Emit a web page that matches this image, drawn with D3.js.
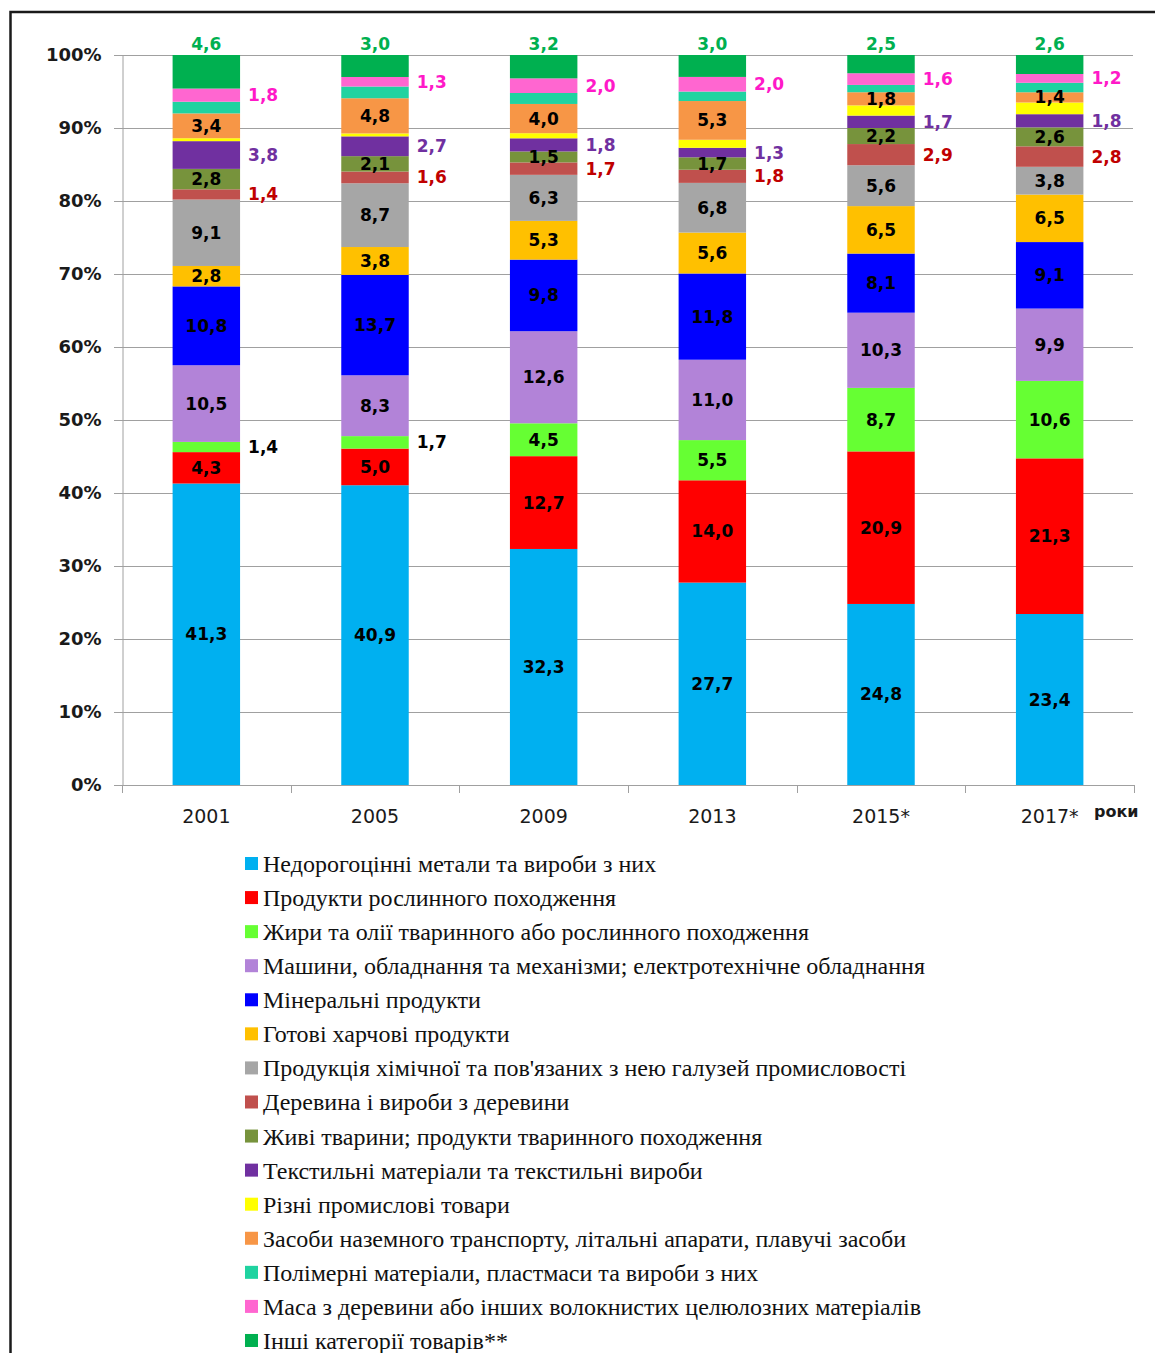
<!DOCTYPE html>
<html>
<head>
<meta charset="utf-8">
<script src="https://cdn.jsdelivr.net/npm/d3@7"></script>
<style>
  html, body { margin: 0; padding: 0; background: #fff; }
  svg { display: block; }
</style>
</head>
<body>
<svg id="chart" width="1155" height="1353"></svg>
<script>
// ---------- DATA ----------
const years = ["2001", "2005", "2009", "2013", "2015*", "2017*"];
const yTicks = [0, 0.1, 0.2, 0.3, 0.4, 0.5, 0.6, 0.7, 0.8, 0.9, 1.0];
const unitLabel = "роки";

const categories = [
  "Недорогоцінні метали та вироби з них",
  "Продукти рослинного походження",
  "Жири та олії тваринного або рослинного походження",
  "Машини, обладнання та механізми; електротехнічне обладнання",
  "Мінеральні продукти",
  "Готові харчові продукти",
  "Продукція хімічної та пов'язаних з нею галузей промисловості",
  "Деревина і вироби з деревини",
  "Живі тварини; продукти тваринного походження",
  "Текстильні матеріали та текстильні вироби",
  "Різні промислові товари",
  "Засоби наземного транспорту, літальні апарати, плавучі засоби",
  "Полімерні матеріали, пластмаси та вироби з них",
  "Маса з деревини або інших волокнистих целюлозних матеріалів",
  "Інші категорії товарів**"
];

const metals    = [41.3, 40.9, 32.3, 27.7, 24.8, 23.4];
const plants    = [4.3, 5.0, 12.7, 14.0, 20.9, 21.3];
const fats      = [1.4, 1.7, 4.5, 5.5, 8.7, 10.6];
const machinery = [10.5, 8.3, 12.6, 11.0, 10.3, 9.9];
const minerals  = [10.8, 13.7, 9.8, 11.8, 8.1, 9.1];
const foods     = [2.8, 3.8, 5.3, 5.6, 6.5, 6.5];
const chemicals = [9.1, 8.7, 6.3, 6.8, 5.6, 3.8];
const wood      = [1.4, 1.6, 1.7, 1.8, 2.9, 2.8];
const animals   = [2.8, 2.1, 1.5, 1.7, 2.2, 2.6];
const textiles  = [3.8, 2.7, 1.8, 1.3, 1.7, 1.8];
const misc      = [0.4, 0.4, 0.7, 1.1, 1.4, 1.6];   // unlabeled, estimated
const transport = [3.4, 4.8, 4.0, 5.3, 1.8, 1.4];
const polymers  = [1.6, 1.6, 1.5, 1.3, 1.0, 1.3];   // unlabeled, estimated
const pulp      = [1.8, 1.3, 2.0, 2.0, 1.6, 1.2];
const others    = [4.6, 3.0, 3.2, 3.0, 2.5, 2.6];

const seriesValues = [metals, plants, fats, machinery, minerals, foods, chemicals,
  wood, animals, textiles, misc, transport, polymers, pulp, others];

// ---------- STYLE ----------
const colors = ["#00b0f0", "#ff0000", "#66ff33", "#b283d8", "#0000ff", "#ffc000",
  "#a6a6a6", "#c0504d", "#77933c", "#7030a0", "#ffff00", "#f79646", "#1fd3a0",
  "#ff66d0", "#00b050"];
const labelMode = ["inside", "inside", "auto", "inside", "inside", "inside", "inside",
  "right", "inside", "right", "none", "inside", "none", "right", "top"];
const labelColor = ["#000", "#000", "#000", "#000", "#000", "#000", "#000",
  "#c00000", "#000", "#7030a0", "#000", "#000", "#000", "#ff19c8", "#00b050"];

// ---------- BUILD ----------
const keys = categories.map((c, i) => "s" + i);
const table = years.map((y, j) => {
  const row = { year: y };
  seriesValues.forEach((arr, i) => { row[keys[i]] = arr[j]; });
  return row;
});
const stacked = d3.stack().keys(keys).offset(d3.stackOffsetExpand)(table);

const svg = d3.select("#chart");
const W = 1155, H = 1353;
svg.append("rect").attr("width", W).attr("height", H).attr("fill", "#fff");
svg.append("rect").attr("x", 10.5).attr("y", 12).attr("width", W + 20).attr("height", H + 20)
  .attr("fill", "none").attr("stroke", "#1a1a1a").attr("stroke-width", 2.5);

const plot = { left: 122, right: 1134, top: 55, bottom: 785 };
const x = d3.scaleBand().domain(years).range([plot.left, plot.right])
  .paddingInner(0.6).paddingOuter(0.3);
const y = d3.scaleLinear().domain([0, 1]).range([plot.bottom, plot.top]);

// gridlines
svg.append("g").selectAll("line").data(yTicks.filter(t => t > 0)).join("line")
  .attr("x1", plot.left - 8).attr("x2", plot.right - 1)
  .attr("y1", d => Math.round(y(d)) + 0.5).attr("y2", d => Math.round(y(d)) + 0.5)
  .attr("stroke", "#a0a0a0").attr("stroke-width", 1);

// y axis
const yAxis = svg.append("g").attr("transform", `translate(${plot.left + 0.5},0)`)
  .call(d3.axisLeft(y).tickValues(yTicks).tickFormat(d3.format(".0%")).tickSize(8).tickPadding(13));
yAxis.select(".domain").attr("stroke", "#a0a0a0");
yAxis.selectAll(".tick line").attr("stroke", "#a0a0a0");
yAxis.selectAll("text").attr("font-family", "DejaVu Sans").attr("font-weight", "bold")
  .attr("font-size", 18).attr("fill", "#1a1a1a");

// bars
const layers = svg.append("g").selectAll("g").data(stacked).join("g")
  .attr("fill", (d, i) => colors[i]);
layers.selectAll("rect").data(d => d).join("rect")
  .attr("x", d => x(d.data.year))
  .attr("width", x.bandwidth())
  .attr("y", d => y(d[1]))
  .attr("height", d => y(d[0]) - y(d[1]));

// x axis
const xAxis = svg.append("g").attr("transform", `translate(0,${plot.bottom + 0.5})`)
  .call(d3.axisBottom(x).tickSize(0).tickPadding(24));
xAxis.select(".domain").attr("stroke", "#a0a0a0").attr("d", `M${plot.left - 8},0H${plot.right}`);
xAxis.selectAll("text").attr("font-family", "DejaVu Sans").attr("font-size", 19)
  .attr("fill", "#1a1a1a");
const bounds = years.map(yv => x(yv) - x.step() * x.paddingOuter()).concat([plot.right]);
svg.append("g").selectAll("line").data(bounds).join("line")
  .attr("x1", d => Math.round(d) + 0.5).attr("x2", d => Math.round(d) + 0.5)
  .attr("y1", plot.bottom).attr("y2", plot.bottom + 8)
  .attr("stroke", "#a0a0a0");
svg.append("text").attr("x", 1094).attr("y", 817)
  .attr("font-family", "DejaVu Sans").attr("font-weight", "bold").attr("font-size", 16)
  .attr("fill", "#1a1a1a").text(unitLabel);

// data labels
const fmt = v => d3.format(".1f")(v).replace(".", ",");
const lab = svg.append("g").attr("font-family", "DejaVu Sans").attr("font-weight", "bold")
  .attr("font-size", 17);
stacked.forEach((layer, i) => {
  layer.forEach((d, j) => {
    const v = seriesValues[i][j];
    const y0 = y(d[0]), y1 = y(d[1]);
    const cy = (y0 + y1) / 2;
    const bx = x(d.data.year);
    let mode = labelMode[i];
    if (mode === "none") return;
    if (mode === "auto") mode = (y0 - y1) < 16 ? "right" : "inside";
    const t = lab.append("text").attr("fill", labelColor[i]).text(fmt(v))
      .attr("dominant-baseline", "central");
    if (mode === "inside") {
      t.attr("x", bx + x.bandwidth() / 2).attr("y", cy).attr("text-anchor", "middle");
    } else if (mode === "right") {
      t.attr("x", bx + x.bandwidth() + 8).attr("y", cy).attr("text-anchor", "start");
    } else if (mode === "top") {
      t.attr("x", bx + x.bandwidth() / 2).attr("y", y1 - 11).attr("text-anchor", "middle");
    }
  });
});

// legend
const legend = svg.append("g").attr("transform", "translate(245,864)");
const items = legend.selectAll("g").data(categories).join("g")
  .attr("transform", (d, i) => `translate(0,${i * 34.07})`);
items.append("rect").attr("x", 0).attr("y", -7).attr("width", 13).attr("height", 13)
  .attr("fill", (d, i) => colors[i]);
items.append("text").attr("x", 18).attr("y", 0).attr("dominant-baseline", "central")
  .attr("font-family", "Liberation Serif").attr("font-size", 24).attr("fill", "#111")
  .text(d => d);
</script>
</body>
</html>
